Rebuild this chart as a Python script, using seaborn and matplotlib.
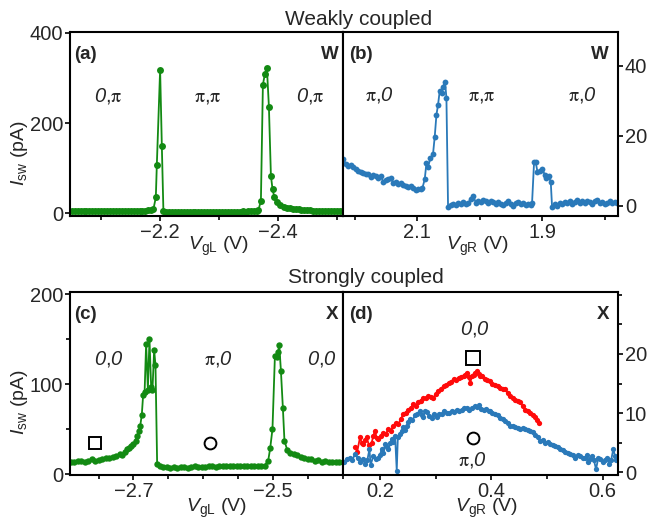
import numpy as np
import pandas as pd
import matplotlib
matplotlib.use("Agg")
import matplotlib.pyplot as plt
import seaborn as sns
from matplotlib.ticker import MultipleLocator, FixedLocator

# ---------------- data ----------------
# (a) weakly coupled, sweep of V_gL, I_sw in pA
a_vg = [-2.050, -2.055, -2.060, -2.065, -2.070, -2.075, -2.080, -2.085, -2.090, -2.095,
        -2.100, -2.105, -2.110, -2.115, -2.120, -2.125, -2.130, -2.135, -2.140, -2.145,
        -2.150, -2.155, -2.160, -2.165, -2.170, -2.175, -2.180, -2.1845, -2.1886, -2.1927,
        -2.1944, -2.2000, -2.2029, -2.2056,
        -2.210, -2.215, -2.220, -2.225, -2.230, -2.235, -2.240, -2.245, -2.250, -2.255,
        -2.260, -2.265, -2.270, -2.275, -2.280, -2.285, -2.290, -2.295, -2.300, -2.305,
        -2.310, -2.315, -2.320, -2.325, -2.330, -2.335, -2.340, -2.345, -2.350, -2.355,
        -2.360, -2.365,
        -2.3670, -2.3711, -2.3745, -2.3779, -2.3813, -2.3847, -2.3881, -2.3908, -2.3937,
        -2.3983, -2.4039, -2.4100, -2.4153,
        -2.420, -2.425, -2.430, -2.435, -2.440, -2.445, -2.450, -2.455, -2.460, -2.465,
        -2.470, -2.475, -2.480, -2.485, -2.490, -2.495, -2.500, -2.505, -2.510]
a_isw = [5, 4, 5, 4, 5, 5, 4, 5, 4, 5,
         5, 4, 5, 4, 5, 5, 4, 5, 5, 4,
         5, 5, 6, 5, 6, 6, 7, 8, 9, 35,
         107, 318, 150, 4,
         3, 2, 3, 3, 2, 3, 3, 2, 3, 3,
         2, 3, 2, 3, 3, 2, 3, 3, 2, 3,
         3, 3, 2, 3, 3, 3, 4, 3, 4, 4,
         5, 6,
         8, 27, 285, 309, 322, 236, 83, 54, 37,
         26, 18, 14, 12,
         11, 10, 9, 9, 8, 8, 7, 7, 6, 6,
         6, 5, 5, 5, 5, 4, 5, 4, 4]

# (b) weakly coupled, sweep of V_gR
b_vg = [2.218, 2.214, 2.210, 2.206, 2.202, 2.198, 2.194, 2.190, 2.186, 2.182,
        2.178, 2.174, 2.170, 2.166, 2.162, 2.158, 2.154, 2.150, 2.146, 2.142,
        2.138, 2.134, 2.130, 2.126, 2.122, 2.118, 2.114, 2.110, 2.106, 2.102,
        2.098, 2.094,
        2.0914, 2.0877, 2.0850, 2.0824, 2.0786, 2.0744, 2.0717, 2.0690, 2.0664, 2.0637,
        2.0605, 2.0584, 2.0552, 2.0530, 2.0504,
        2.046, 2.042, 2.038, 2.034, 2.030, 2.026, 2.022, 2.018, 2.014, 2.010,
        2.006, 2.002, 1.998, 1.994, 1.990, 1.986, 1.982, 1.978, 1.974, 1.970,
        1.966, 1.962, 1.958, 1.954, 1.950, 1.946, 1.942, 1.938, 1.934, 1.930,
        1.926, 1.922, 1.918,
        1.9160, 1.9128, 1.9101, 1.9074, 1.9037, 1.8994, 1.8957, 1.8930, 1.8893, 1.8861,
        1.8840,
        1.880, 1.876, 1.872, 1.868, 1.864, 1.860, 1.856, 1.852, 1.848, 1.844,
        1.840, 1.836, 1.832, 1.828, 1.824, 1.820, 1.816, 1.812, 1.808, 1.804,
        1.800, 1.796, 1.792, 1.788, 1.784, 1.780]
b_isw = [13.4, 12.0, 11.5, 11.6, 11.0, 10.5, 10.1, 9.7, 9.3, 9.0,
         9.1, 8.2, 8.9, 8.5, 7.9, 8.4, 6.9, 7.3, 7.6, 7.9,
         6.5, 6.8, 6.3, 6.5, 6.0, 5.8, 5.5, 5.7, 5.1, 4.6,
         4.9, 4.8,
         5.1, 7.6, 12.2, 11.2, 13.6, 14.9, 19.8, 26.0, 28.9, 32.9,
         32.2, 34.1, 35.5, 30.8, -0.2,
         0.3, 0.6, 0.2, 0.9, 0.4, 1.2, 0.5, 0.8, 2.0, 2.9,
         0.9, 1.5, 1.1, 1.8, 1.3, 0.7, 1.4, 1.0, 0.4, 1.2,
         0.6, 0.2, 0.9, 1.3, 0.5, 0.1, 0.8, 1.1, 0.4, 0.7,
         0.2, 0.6, 0.3,
         0.8, 12.4, 12.4, 9.8, 10.0, 10.5, 8.9, 7.9, 8.4, 6.9,
         -0.2,
         0.4, 0.1, 0.9, 0.5, 1.2, 0.8, 1.4, 0.6, 1.1, 1.6,
         0.9, 1.3, 0.7, 1.5, 1.0, 0.6, 1.3, 1.8, 0.9, 1.2,
         0.5, 0.9, 1.4, 0.7, 1.1, 0.9]

# (c) strongly coupled, sweep of V_gL
c_vg = [-2.790, -2.785, -2.780, -2.775, -2.770, -2.765, -2.760, -2.755, -2.750, -2.745,
        -2.740, -2.735, -2.730, -2.725, -2.720, -2.716, -2.712, -2.709, -2.706, -2.703,
        -2.700, -2.697, -2.6947, -2.6920, -2.6904, -2.6880, -2.6861, -2.6840, -2.6818,
        -2.6793, -2.6770, -2.6746, -2.6727, -2.6703, -2.6684, -2.6660,
        -2.662, -2.657, -2.652, -2.647, -2.642, -2.637, -2.632, -2.627, -2.622, -2.617,
        -2.612, -2.607, -2.602, -2.597, -2.592, -2.587, -2.582, -2.577, -2.572, -2.567,
        -2.562, -2.557, -2.552, -2.547, -2.542, -2.537, -2.532, -2.527, -2.522, -2.517,
        -2.512,
        -2.5067, -2.5039, -2.5006, -2.4971, -2.4948, -2.4925, -2.4909, -2.4885, -2.4857,
        -2.4834, -2.4795,
        -2.475, -2.470, -2.465, -2.460, -2.455, -2.450, -2.445, -2.440, -2.435, -2.430,
        -2.425, -2.420, -2.415, -2.410, -2.405, -2.400]
c_isw = [14, 13.5, 14.5, 15, 14, 15, 16.5, 15, 16, 17,
         17.5, 18, 19, 20.5, 22, 21, 25, 28, 29, 31,
         33, 37, 42, 48, 53, 66, 88, 91, 145,
         94, 150, 97, 94, 138, 121, 11,
         9, 8, 7.5, 7, 8, 7, 7.5, 8, 7, 8,
         8.5, 8, 7.5, 8, 8.5, 9, 8, 8.5, 9, 8.5,
         9, 9.5, 9, 8.5, 9, 9.5, 9, 8.5, 9, 9,
         9.5,
         15, 28.5, 50, 131, 130, 136, 144, 115, 74,
         37, 27,
         24, 22, 21, 19, 18, 17, 17, 15, 16, 14,
         15, 14, 13, 14, 13, 13]

# (d) strongly coupled, sweep of V_gR (blue: pi,0 region ; red: 0,0 region)
d_blue_vg = [0.135, 0.140, 0.146, 0.150, 0.155, 0.160, 0.164, 0.169, 0.173, 0.177,
             0.181, 0.183, 0.188, 0.192, 0.197, 0.200, 0.203, 0.206, 0.209, 0.212,
             0.215, 0.218, 0.221, 0.224, 0.227, 0.230, 0.232, 0.235, 0.239, 0.242,
             0.245, 0.248, 0.251, 0.254, 0.258, 0.263, 0.267, 0.272, 0.275, 0.278,
             0.281, 0.284, 0.288, 0.293, 0.297, 0.302, 0.306, 0.311, 0.315, 0.320,
             0.324, 0.329, 0.333, 0.338, 0.342, 0.347, 0.351, 0.356, 0.360, 0.365,
             0.370, 0.374, 0.378, 0.382, 0.386, 0.391, 0.395, 0.398, 0.402, 0.407,
             0.411, 0.416, 0.420, 0.425, 0.429, 0.434, 0.438, 0.443, 0.447, 0.452,
             0.456, 0.461, 0.465, 0.469, 0.474, 0.478, 0.483, 0.487, 0.492, 0.496,
             0.501, 0.505, 0.510, 0.514, 0.519, 0.523, 0.528, 0.532, 0.537, 0.541,
             0.546, 0.550, 0.555, 0.559, 0.564, 0.568, 0.572, 0.574, 0.577, 0.580,
             0.584, 0.588, 0.592, 0.595, 0.600, 0.604, 0.608, 0.612, 0.615, 0.619,
             0.622, 0.624]
d_blue_isw = [1.7, 2.3, 2.5, 2.0, 3.1, 2.4, 1.8, 2.2, 1.4, 2.0,
              3.9, 1.2, 2.8, 2.2, 2.5, 3.0, 3.9, 3.2, 4.8, 4.2,
              3.9, 4.9, 5.6, 5.2, 6.2, 0.3, 6.0, 6.4, 7.0, 7.6,
              7.2, 7.8, 8.5, 9.0, 8.8, 9.6, 9.9, 10.4, 9.6, 9.4,
              10.3, 10.2, 9.5, 9.2, 9.8, 9.4, 9.9, 9.8, 10.3, 10.1,
              10.0, 10.4, 10.2, 10.6, 10.3, 10.5, 10.9, 10.9, 10.6, 10.8,
              11.2, 11.1, 11.3, 10.7, 10.6, 10.7, 10.3, 10.4, 10.0, 9.8,
              9.6, 9.2, 9.0, 8.7, 8.3, 7.8, 7.9, 7.6, 7.5, 7.3,
              7.5, 7.3, 7.1, 7.0, 6.8, 6.3, 5.9, 5.3, 5.4, 5.0,
              5.1, 4.8, 4.6, 4.4, 4.2, 3.9, 3.7, 3.5, 3.3, 3.1,
              2.9, 2.5, 2.9, 2.8, 2.4, 2.5, 2.9, 1.7, 2.3, 2.8,
              2.1, 0.55, 2.4, 2.2, 1.7, 2.0, 2.4, 1.4, 2.0, 3.9,
              2.8, 2.0]
d_red_vg = [0.155, 0.159, 0.164, 0.167, 0.170, 0.173, 0.176, 0.180, 0.185, 0.188,
            0.191, 0.194, 0.197, 0.201, 0.206, 0.210, 0.215, 0.219, 0.224, 0.228,
            0.233, 0.237, 0.242, 0.246, 0.251, 0.255, 0.260, 0.264, 0.269, 0.273,
            0.278, 0.282, 0.287, 0.291, 0.296, 0.300, 0.305, 0.309, 0.314, 0.318,
            0.323, 0.327, 0.332, 0.336, 0.341, 0.345, 0.350, 0.353, 0.356, 0.359,
            0.362, 0.365, 0.368, 0.371, 0.374, 0.377, 0.380, 0.384, 0.389, 0.393,
            0.398, 0.402, 0.407, 0.411, 0.416, 0.420, 0.425, 0.429, 0.434, 0.438,
            0.443, 0.447, 0.452, 0.456, 0.461, 0.465, 0.469, 0.474, 0.478, 0.482,
            0.485]
d_red_isw = [4.2, 3.5, 5.9, 5.0, 4.8, 5.4, 5.9, 4.6, 5.0, 6.2,
             7.0, 5.8, 5.6, 6.1, 6.7, 6.4, 7.3, 7.0, 7.8, 8.3,
             8.1, 9.0, 9.8, 10.1, 10.6, 10.9, 11.5, 11.2, 11.8, 12.1,
             12.6, 12.5, 12.9, 12.7, 12.6, 13.2, 13.7, 14.0, 14.6, 14.7,
             15.1, 15.3, 15.7, 15.6, 16.0, 16.1, 16.2, 16.5, 16.8, 16.1,
             15.1, 16.2, 16.4, 16.8, 17.1, 16.6, 16.2, 16.3, 15.8, 15.6,
             15.4, 15.0, 14.8, 14.5, 14.3, 14.1, 14.0, 13.4, 12.9, 12.6,
             12.2, 12.0, 11.8, 11.2, 10.6, 10.4, 10.1, 9.7, 9.4, 8.9,
             8.4]

# ---------------- style ----------------
sns.set_style("ticks")
plt.rcParams['font.family'] = ['Liberation Sans', 'DejaVu Sans']
plt.rcParams['mathtext.fontset'] = 'custom'
plt.rcParams['mathtext.rm'] = 'Liberation Sans'
plt.rcParams['mathtext.it'] = 'Liberation Sans:italic'
plt.rcParams['mathtext.bf'] = 'Liberation Sans:bold'
plt.rcParams['mathtext.cal'] = 'Liberation Sans:italic'
plt.rcParams['mathtext.sf'] = 'STIXGeneral'

GREEN = '#138a13'
BLUE = '#2a79b9'
RED = '#ff0a0a'
TICK_FS = 14.5
LABEL_FS = 14
TITLE_FS = 15
ANN_FS = 14.5
TAG_FS = 13.5

W, H = 650, 522
fig = plt.figure(figsize=(W / 100, H / 100), dpi=100)


def rect(x0, y0, x1, y1):
    return [x0 / W, 1 - y1 / H, (x1 - x0) / W, (y1 - y0) / H]


ax_a = fig.add_axes(rect(70, 32.3, 343.3, 216))
ax_b = fig.add_axes(rect(343.3, 32.3, 618.3, 216))
ax_c = fig.add_axes(rect(70, 292.3, 343.3, 475))
ax_d = fig.add_axes(rect(343.3, 292.3, 618.3, 475))

line_kw = dict(marker='o', markeredgewidth=0, sort=False, estimator=None)

sns.lineplot(x=a_vg, y=a_isw, ax=ax_a, color=GREEN, markersize=5.0, linewidth=1.3, **line_kw)
sns.lineplot(x=b_vg, y=b_isw, ax=ax_b, color=BLUE, markersize=4.2, linewidth=1.3, **line_kw)
sns.lineplot(x=c_vg, y=c_isw, ax=ax_c, color=GREEN, markersize=4.6, linewidth=1.3, **line_kw)
sns.lineplot(x=d_red_vg, y=d_red_isw, ax=ax_d, color=RED, markersize=3.8, linewidth=1.3, **line_kw)
sns.lineplot(x=d_blue_vg, y=d_blue_isw, ax=ax_d, color=BLUE, markersize=3.8, linewidth=1.3, **line_kw)

# ---------------- axes ----------------
for ax in (ax_a, ax_b, ax_c, ax_d):
    for sp in ax.spines.values():
        sp.set_visible(True)
        sp.set_linewidth(1.5)
        sp.set_color('black')
    ax.tick_params(which='major', direction='out', length=3.8, width=1.2,
                   labelsize=TICK_FS, pad=1.0, color='black')
    ax.tick_params(which='minor', direction='out', length=2.6, width=1.2, color='black')
    ax.tick_params(axis='x', which='both', top=False, bottom=True)

# (a)
ax_a.set_xlim(-2.047, -2.511)
ax_a.xaxis.set_major_locator(MultipleLocator(0.2))
ax_a.xaxis.set_minor_locator(MultipleLocator(0.1))
ax_a.set_ylim(-6, 401)
ax_a.set_yticks([0, 200, 400])
ax_a.tick_params(axis='y', which='both', left=True, right=False)

# (b)
ax_b.set_xlim(2.218, 1.778)
ax_b.xaxis.set_major_locator(FixedLocator([2.3, 2.1, 1.9, 1.7]))
ax_b.xaxis.set_minor_locator(MultipleLocator(0.1))
ax_b.set_ylim(-2.9, 49.6)
ax_b.yaxis.tick_right()
ax_b.set_yticks([0, 20, 40])
ax_b.tick_params(axis='y', which='both', left=False, right=True)

# (c)
ax_c.set_xlim(-2.791, -2.399)
ax_c.xaxis.set_major_locator(FixedLocator([-2.9, -2.7, -2.5, -2.3]))
ax_c.xaxis.set_minor_locator(MultipleLocator(0.05))
ax_c.set_ylim(-1, 202)
ax_c.set_yticks([0, 100, 200])
ax_c.yaxis.set_minor_locator(MultipleLocator(50))
ax_c.tick_params(axis='y', which='both', left=True, right=False)

# (d)
ax_d.set_xlim(0.134, 0.628)
ax_d.xaxis.set_major_locator(MultipleLocator(0.2))
ax_d.xaxis.set_minor_locator(MultipleLocator(0.1))
ax_d.set_ylim(-0.45, 30.4)
ax_d.yaxis.tick_right()
ax_d.set_yticks([0, 10, 20])
ax_d.yaxis.set_minor_locator(MultipleLocator(5))
ax_d.tick_params(axis='y', which='both', left=False, right=True)

# labels
for ax, xl, xc, yc in ((ax_a, r"$V_{\rm gL}$ (V)", 0.542, -0.165),
                       (ax_b, r"$V_{\rm gR}$ (V)", 0.49, -0.165),
                       (ax_c, r"$V_{\rm gL}$ (V)", 0.535, -0.183),
                       (ax_d, r"$V_{\rm gR}$ (V)", 0.522, -0.183)):
    ax.set_xlabel(xl, fontsize=LABEL_FS, va='center')
    ax.xaxis.set_label_coords(xc, yc)
for ax, yc in ((ax_a, 0.343), (ax_c, 0.397)):
    ax.set_ylabel(r"$I_{\rm sw}$ (pA)", fontsize=LABEL_FS, va='center')
    ax.yaxis.set_label_coords(-0.185, yc)
ax_b.set_ylabel('')
ax_d.set_ylabel('')

# panel tags
for ax, tag, letter in ((ax_a, '(a)', 'W'), (ax_b, '(b)', 'W'),
                        (ax_c, '(c)', 'X'), (ax_d, '(d)', 'X')):
    xl = 0.015 if ax in (ax_a, ax_c) else 0.022
    xr = 0.982 if ax in (ax_a, ax_c) else 0.967
    ax.text(xl, 0.855, tag, transform=ax.transAxes, fontsize=TAG_FS,
            fontweight='bold', ha='left', va='baseline')
    ax.text(xr, 0.855, letter, transform=ax.transAxes, fontsize=TAG_FS,
            fontweight='bold', ha='right', va='baseline')

ZERO = r"$\mathcal{0}$"
PI = r"$\mathsf{\pi}$"
ann = dict(fontsize=ANN_FS, ha='center', va='baseline')
ax_a.text(0.139, 0.625, ZERO + ',' + PI, transform=ax_a.transAxes, **ann)
ax_a.text(0.505, 0.625, PI + ',' + PI, transform=ax_a.transAxes, **ann)
ax_a.text(0.879, 0.625, ZERO + ',' + PI, transform=ax_a.transAxes, **ann)
ax_b.text(0.131, 0.63, PI + ',' + ZERO, transform=ax_b.transAxes, **ann)
ax_b.text(0.503, 0.63, PI + ',' + PI, transform=ax_b.transAxes, **ann)
ax_b.text(0.869, 0.63, PI + ',' + ZERO, transform=ax_b.transAxes, **ann)
ax_c.text(0.143, 0.604, ZERO + ',' + ZERO, transform=ax_c.transAxes, **ann)
ax_c.text(0.542, 0.604, PI + ',' + ZERO, transform=ax_c.transAxes, **ann)
ax_c.text(0.923, 0.604, ZERO + ',' + ZERO, transform=ax_c.transAxes, **ann)
ax_d.text(0.479, 0.768, ZERO + ',' + ZERO, transform=ax_d.transAxes, **ann)
ax_d.text(0.470, 0.051, PI + ',' + ZERO, transform=ax_d.transAxes, **ann)

# open square / circle symbols linking (c) and (d)
sym = dict(linestyle='none', markerfacecolor='none', markeredgecolor='black', markeredgewidth=1.4)
ax_c.plot([0.093], [0.173], marker='s', markersize=9.0, transform=ax_c.transAxes, **sym)
ax_c.plot([0.513], [0.173], marker='o', markersize=8.5, transform=ax_c.transAxes, **sym)
ax_d.plot([0.470], [0.641], marker='s', markersize=9.5, transform=ax_d.transAxes, **sym)
ax_d.plot([0.470], [0.205], marker='o', markersize=8.5, transform=ax_d.transAxes, **sym)

# row titles
fig.text(359 / W, 1 - 25 / H, 'Weakly coupled', fontsize=TITLE_FS, ha='center', va='baseline')
fig.text(365.5 / W, 1 - 283 / H, 'Strongly coupled', fontsize=TITLE_FS, ha='center', va='baseline')

fig.savefig('out.png', dpi=100)
